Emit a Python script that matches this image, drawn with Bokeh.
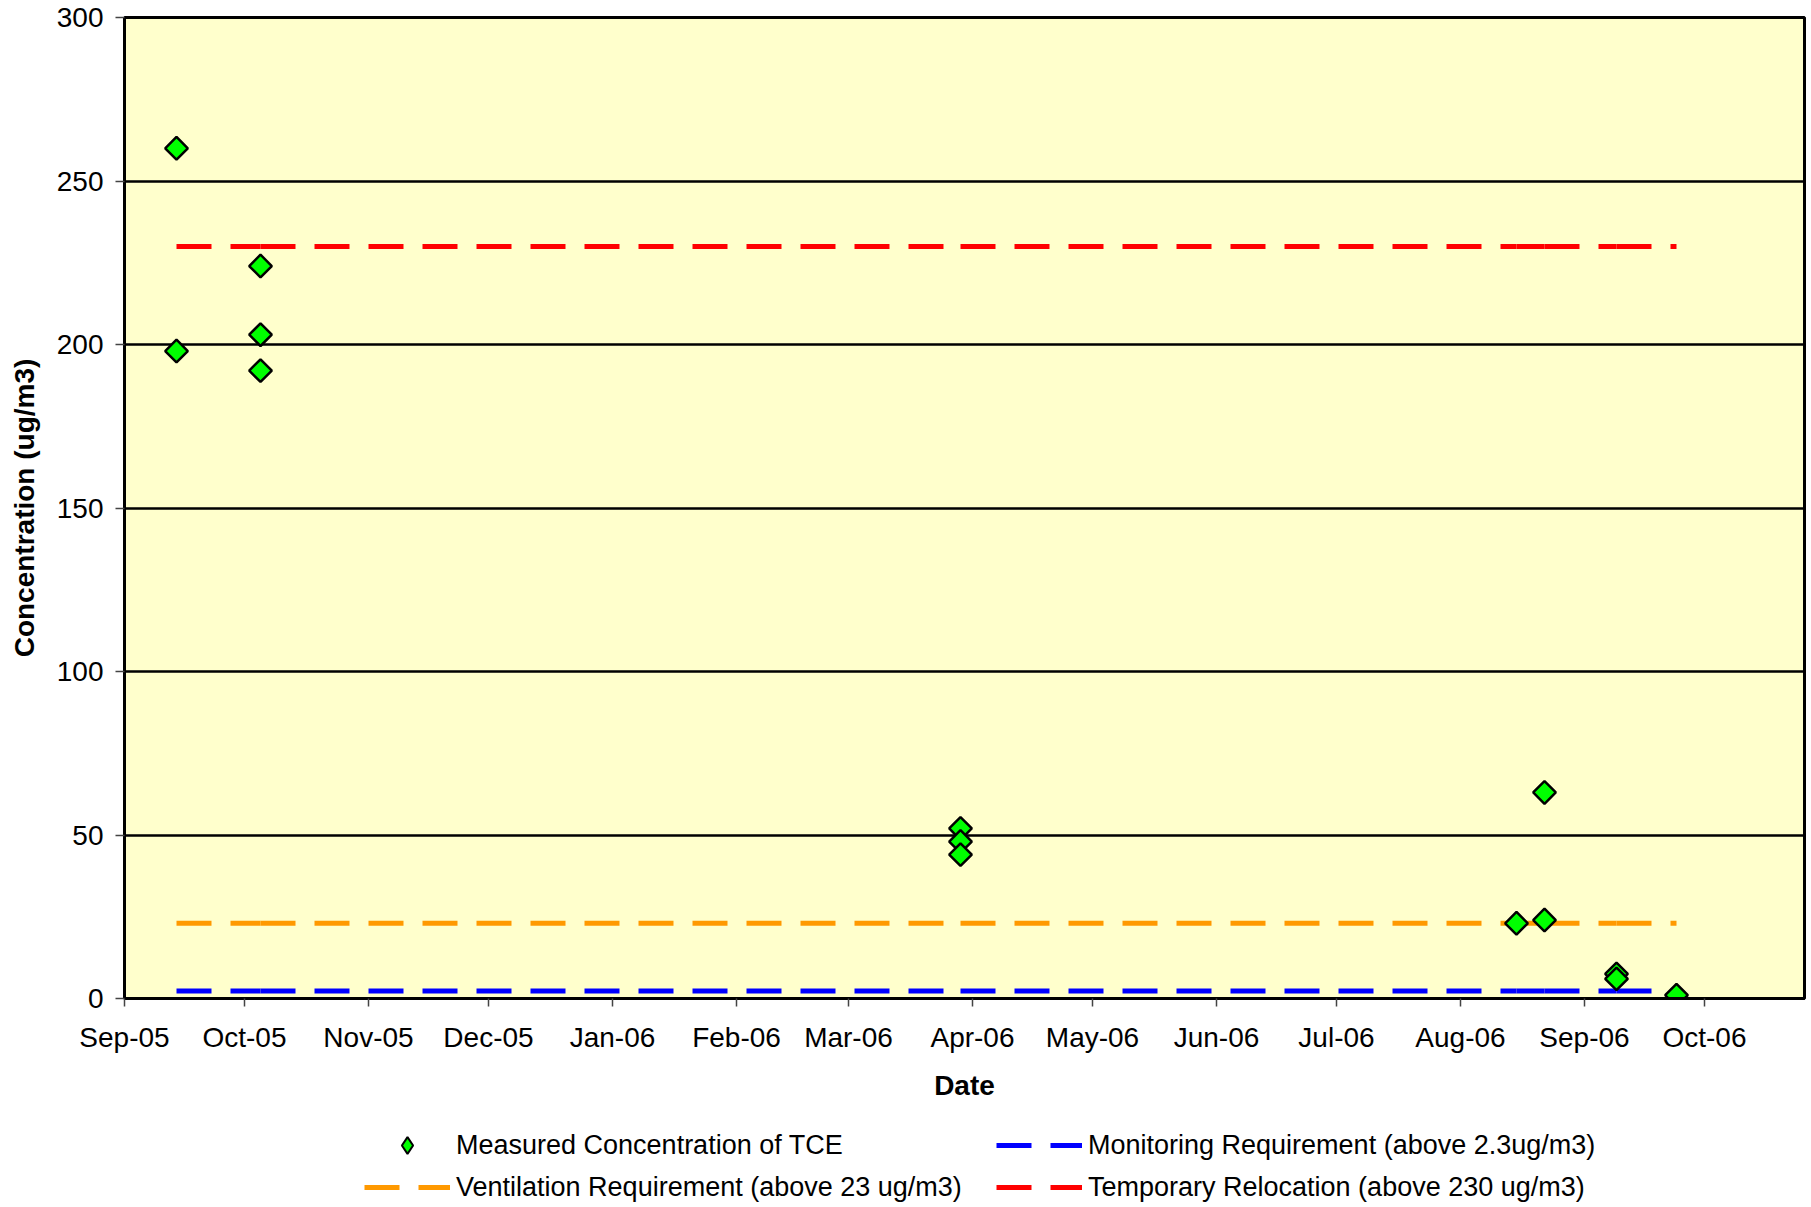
import numpy as np
import pandas as pd
from bokeh.plotting import figure
from bokeh.layouts import column
from bokeh.models import (Range1d, FixedTicker, DatetimeTickFormatter, Legend,
                          LegendItem, ColumnDataSource)
from bokeh.embed import file_html
from bokeh.resources import INLINE

# ---- data ----
sample_dates = ["2005-09-14", "2005-09-14", "2005-10-05", "2005-10-05", "2005-10-05",
                "2006-03-29", "2006-03-29", "2006-03-29",
                "2006-08-15", "2006-08-22", "2006-08-22",
                "2006-09-09", "2006-09-09", "2006-09-24"]
tce_values = [260, 198, 224, 203, 192, 52, 48, 44, 23, 63, 24, 7.5, 6, 1]

threshold_dates = ["2005-09-14", "2005-10-05", "2006-03-29", "2006-08-15",
                   "2006-08-22", "2006-09-09", "2006-09-24"]
monitoring_level = 2.3
ventilation_level = 23
relocation_level = 230

month_ticks = pd.date_range("2005-09-01", "2006-10-01", freq="MS")
x_start, x_end = "2005-09-01", "2006-10-26"
y_ticks = [0, 50, 100, 150, 200, 250, 300]


def ms(d):
    return pd.Timestamp(d).value / 1e6


FONT = "Liberation Sans"
MAIN_H = 1110
LEG_H = 1207 - MAIN_H

p = figure(width=1811, height=MAIN_H, output_backend="svg", toolbar_location=None,
           x_range=Range1d(ms(x_start), ms(x_end)), y_range=Range1d(0, 300),
           x_axis_type="datetime",
           min_border_left=124, min_border_right=7, min_border_top=17,
           min_border_bottom=MAIN_H - 998)
p.background_fill_color = "#FFFFCC"
p.border_fill_color = "white"
p.outline_line_color = "black"
p.outline_line_width = 3

# grid
p.xgrid.grid_line_color = None
p.ygrid.grid_line_color = "black"
p.ygrid.grid_line_width = 2.5
p.ygrid.ticker = FixedTicker(ticks=y_ticks)

# axes
p.xaxis.ticker = FixedTicker(ticks=[ms(t) for t in month_ticks])
fmt = "%b-%y"
p.xaxis.formatter = DatetimeTickFormatter(
    milliseconds=fmt, seconds=fmt, minsec=fmt, minutes=fmt, hourmin=fmt,
    hours=fmt, days=fmt, months=fmt, years=fmt)
p.yaxis.ticker = FixedTicker(ticks=y_ticks)
for ax in (p.xaxis[0], p.yaxis[0]):
    ax.axis_line_color = "black"
    ax.axis_line_width = 3
    ax.major_tick_line_color = "#444444"
    ax.major_tick_line_width = 1.5
    ax.major_tick_in = 0
    ax.minor_tick_line_color = None
    ax.major_label_text_font = FONT
    ax.major_label_text_font_size = "28px"
    ax.major_label_text_color = "black"
    ax.axis_label_text_font = FONT
    ax.axis_label_text_font_size = "28px"
    ax.axis_label_text_font_style = "bold"
    ax.axis_label_text_color = "black"
p.xaxis.major_tick_out = 8
p.yaxis.major_tick_out = 9
p.xaxis.major_label_standoff = 15
p.yaxis.major_label_standoff = 12
p.xaxis.axis_label = "Date"
p.yaxis.axis_label = "Concentration (ug/m3)"
p.xaxis.axis_label_standoff = 14
p.yaxis.axis_label_standoff = 14

# threshold lines (one segment between consecutive sample dates)
def segments(level):
    xs = [[ms(threshold_dates[i]), ms(threshold_dates[i + 1])]
          for i in range(len(threshold_dates) - 1)]
    ys = [[level, level] for _ in xs]
    return xs, ys

DASH = "35 19"
MON = dict(line_color="#0000FF", line_width=5, line_dash=DASH)
VEN = dict(line_color="#FF9900", line_width=5, line_dash=DASH)
REL = dict(line_color="#FF0000", line_width=5, line_dash=DASH)
MARK = dict(fill_color="#00FF00", line_color="black", line_width=2.5)

xs, ys = segments(monitoring_level)
p.multi_line(xs, ys, **MON)
xs, ys = segments(ventilation_level)
p.multi_line(xs, ys, **VEN)
xs, ys = segments(relocation_level)
p.multi_line(xs, ys, **REL)

src = ColumnDataSource(dict(x=[ms(d) for d in sample_dates], y=tce_values))
p.scatter("x", "y", source=src, marker="square", angle=np.pi / 4, size=16, **MARK)

# legend strip below the chart (same styles; its glyphs sit outside its view)
q = figure(width=1811, height=LEG_H, output_backend="svg", toolbar_location=None,
           x_range=Range1d(0, 1), y_range=Range1d(0, 1),
           x_axis_location=None, y_axis_location=None,
           min_border_left=124, min_border_right=7, min_border_top=0,
           min_border_bottom=0)
q.outline_line_color = None
q.grid.visible = False
q.background_fill_color = "white"
l_tce = q.scatter(x=[-5], y=[-5], marker="diamond", size=16,
                  fill_color="#00FF00", line_color="black", line_width=2)
l_mon = q.multi_line(xs=[[-5, -4]], ys=[[-5, -5]], **MON)
l_ven = q.multi_line(xs=[[-5, -4]], ys=[[-5, -5]], **VEN)
l_rel = q.multi_line(xs=[[-5, -4]], ys=[[-5, -5]], **REL)

legend = Legend(items=[
    LegendItem(label="Measured Concentration of TCE", renderers=[l_tce]),
    LegendItem(label="Ventilation Requirement (above 23 ug/m3)", renderers=[l_ven]),
    LegendItem(label="Monitoring Requirement (above 2.3ug/m3)", renderers=[l_mon]),
    LegendItem(label="Temporary Relocation (above 230 ug/m3)", renderers=[l_rel]),
], location=(240, -1), orientation="vertical", ncols=2)
legend.background_fill_alpha = 0
legend.border_line_color = None
legend.label_text_font = FONT
legend.label_text_font_size = "27px"
legend.label_text_color = "black"
legend.glyph_width = 86
legend.glyph_height = 42
legend.label_height = 42
legend.label_width = 540
legend.label_standoff = 6
legend.spacing = 0
legend.padding = 0
legend.margin = 0
q.add_layout(legend, "center")

layout = column(p, q, spacing=0)
open("out.html", "w").write(file_html(layout, INLINE))
